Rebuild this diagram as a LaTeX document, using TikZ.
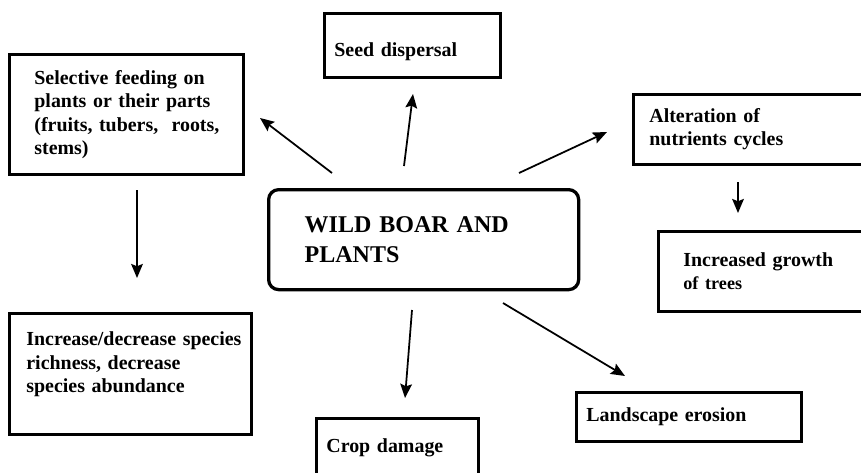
\documentclass[tikz,border=0pt]{standalone}
\usepackage{fontspec}
\setmainfont{Liberation Serif}
\usetikzlibrary{arrows.meta}

\tikzset{
  box/.style={draw, line width=2.4pt, anchor=north west, inner xsep=0pt, inner ysep=0pt,
    align=left, font=\bfseries\fontsize{17}{20}\selectfont},
  indent/.style={execute at begin node={\leftskip=#1\relax}},
  arr/.style={-{Stealth[length=12pt,width=10pt,inset=2pt]}, line width=1.5pt},
}

\begin{document}
\begin{tikzpicture}[x=0.03cm,y=-0.03cm]
      \useasboundingbox (0,0) rectangle (861,472);
      % boxes
      \node[box, text width=9.3cm, minimum height=3cm, indent=1.08cm, rounded corners=0.3cm, line width=2.8pt,
            font=\bfseries\fontsize{20.5}{25.5}\selectfont] (hub) at (267,188) {WILD BOAR AND\\PLANTS};
      \node[box, text width=7.02cm, minimum height=3.6cm, indent=0.75cm] (feed) at (8,53)
            {Selective feeding on\\plants or their parts\\(fruits, tubers,\ \ roots,\\stems)};
      \node[box, text width=5.28cm, minimum height=1.92cm, indent=0.3cm, text height=0.66cm, text depth=0pt] (seed) at (323,12)
            {Seed dispersal};
      \node[box, text width=7.2cm, minimum height=2.1cm, indent=0.48cm] (alter) at (632,93)
            {Alteration of\\nutrients cycles};
      \node[box, text width=6.6cm, minimum height=2.4cm, indent=0.75cm] (growth) at (657,230)
            {Increased growth\\{\fontsize{15.5}{18}\selectfont of trees}};
      \node[box, text width=7.26cm, minimum height=3.63cm, indent=0.51cm] (incr) at (8,312)
            {Increase/decrease species\\richness, decrease\\species abundance\\~};
      \node[box, text width=4.86cm, minimum height=1.74cm, indent=0.3cm] (crop) at (315,417) {Crop damage};
      \node[box, text width=6.75cm, minimum height=1.47cm, indent=0.3cm] (erosion) at (575,391) {Landscape erosion};
      % arrow ends
      \coordinate (hub-feed) at (332,173);   \coordinate (feed-in) at (260,118);
      \coordinate (hub-seed) at (404,166);   \coordinate (seed-in) at (413,94);
      \coordinate (hub-alter) at (519,173);  \coordinate (alter-in) at (607,132);
      \coordinate (feed-out) at (137,190);   \coordinate (incr-in) at (137,278);
      \coordinate (alter-out) at (738,182);  \coordinate (growth-in) at (738,213);
      \coordinate (hub-crop) at (412,310);   \coordinate (crop-in) at (405,398);
      \coordinate (hub-erosion) at (503,303); \coordinate (erosion-in) at (625,376);
      \foreach \a/\b in {hub-feed/feed-in, hub-seed/seed-in, hub-alter/alter-in, feed-out/incr-in,
                         alter-out/growth-in, hub-crop/crop-in, hub-erosion/erosion-in}
        \draw[arr] (\a) -- (\b);
\end{tikzpicture}
\end{document}
